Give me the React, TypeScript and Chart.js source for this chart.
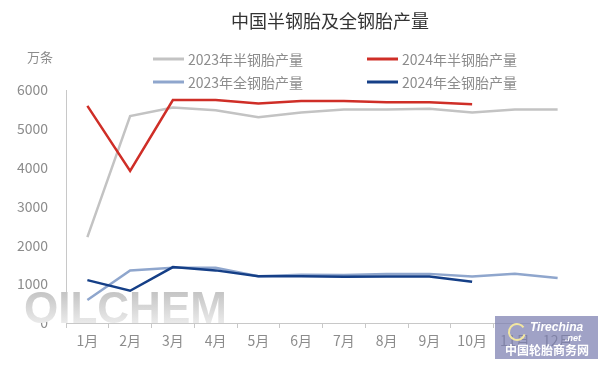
import React, { useEffect, useRef } from "react";
import { Chart, registerables } from "chart.js";

Chart.register(...registerables);

const months = ["1月", "2月", "3月", "4月", "5月", "6月", "7月", "8月", "9月", "10月", "11月", "12月"];
const semi2023 = [2210, 5330, 5550, 5480, 5300, 5420, 5495, 5500, 5515, 5420, 5500, 5495];
const semi2024 = [5590, 3915, 5740, 5745, 5650, 5715, 5715, 5685, 5685, 5630];
const full2023 = [590, 1355, 1420, 1420, 1205, 1240, 1235, 1265, 1265, 1200, 1265, 1160];
const full2024 = [1105, 830, 1440, 1355, 1205, 1205, 1190, 1195, 1200, 1060];
const yTicks = [0, 1000, 2000, 3000, 4000, 5000, 6000];

const titleText = "中国半钢胎及全钢胎产量";
const unitText = "万条";
const labels = ["2023年半钢胎产量", "2024年半钢胎产量", "2023年全钢胎产量", "2024年全钢胎产量"];
const colors = ["#c3c3c3", "#cf2e27", "#8fa6cd", "#153f87"];

const CJK = '"Noto Sans CJK SC", "Noto Sans", sans-serif';

const decor = {
  id: "decor",
  beforeDatasetsDraw(chart: any) {
    const ctx = chart.ctx;
    ctx.save();
    const g = ctx.createLinearGradient(0, 290, 0, 325);
    g.addColorStop(0, "#c2c2c2");
    g.addColorStop(1, "#ececec");
    ctx.fillStyle = g;
    ctx.font = 'bold 44px "Liberation Sans", Arial, sans-serif';
    ctx.textAlign = "left";
    ctx.textBaseline = "alphabetic";
    ctx.fillText("OILCHEM", 24, 323);
    ctx.restore();
  },
  afterDraw(chart: any) {
    const ctx = chart.ctx;
    ctx.save();
    // title
    ctx.fillStyle = "#333333";
    ctx.font = `18px ${CJK}`;
    ctx.textAlign = "center";
    ctx.textBaseline = "middle";
    ctx.fillText(titleText, 330, 21);
    // unit
    ctx.fillStyle = "#8c8c8c";
    ctx.font = `13px ${CJK}`;
    ctx.fillText(unitText, 40, 57);
    // legend
    const pos = [
      [153, 59],
      [367, 59],
      [153, 82],
      [367, 82],
    ];
    ctx.font = `14px ${CJK}`;
    ctx.textAlign = "left";
    for (let i = 0; i < 4; i++) {
      const [x, y] = pos[i];
      ctx.strokeStyle = colors[i];
      ctx.lineWidth = 3;
      ctx.beginPath();
      ctx.moveTo(x, y);
      ctx.lineTo(x + 31, y);
      ctx.stroke();
      ctx.fillStyle = "#8c8c8c";
      ctx.fillText(labels[i], x + 35, y + 1);
    }
    // tirechina box
    ctx.globalAlpha = 0.72;
    ctx.fillStyle = "#7c7eb0";
    ctx.fillRect(495, 316, 103, 43);
    ctx.globalAlpha = 1;
    ctx.strokeStyle = "#f3e7a0";
    ctx.lineWidth = 2;
    ctx.beginPath();
    ctx.arc(517, 332, 8, 0.3, Math.PI * 1.8);
    ctx.stroke();
    ctx.fillStyle = "#ffffff";
    ctx.font = 'italic bold 12px "Liberation Sans", Arial, sans-serif';
    ctx.textAlign = "left";
    ctx.fillText("Tirechina", 530, 328);
    ctx.font = 'italic bold 9px "Liberation Sans", Arial, sans-serif';
    ctx.fillText(".net", 565, 339);
    ctx.font = `bold 12px ${CJK}`;
    ctx.textAlign = "center";
    ctx.fillText("中国轮胎商务网", 547, 350);
    ctx.restore();
  },
};

export default function App() {
  const ref = useRef<HTMLCanvasElement>(null);
  useEffect(() => {
    document.body.style.margin = "0";
    const chart = new Chart(ref.current!, {
      type: "line",
      data: {
        labels: months,
        datasets: [
          { label: labels[0], data: semi2023, borderColor: colors[0], backgroundColor: colors[0], borderWidth: 2.5, pointRadius: 0, order: 2 },
          { label: labels[1], data: semi2024, borderColor: colors[1], backgroundColor: colors[1], borderWidth: 2.5, pointRadius: 0, order: 0 },
          { label: labels[2], data: full2023, borderColor: colors[2], backgroundColor: colors[2], borderWidth: 2.5, pointRadius: 0, order: 3 },
          { label: labels[3], data: full2024, borderColor: colors[3], backgroundColor: colors[3], borderWidth: 2.5, pointRadius: 0, order: 1 },
        ],
      },
      options: {
        animation: false,
        responsive: false,
        maintainAspectRatio: false,
        layout: { padding: { left: 0, right: 21, top: 90, bottom: 0 } },
        plugins: { legend: { display: false }, title: { display: false }, tooltip: { enabled: false } },
        scales: {
          x: {
            offset: true,
            grid: { offset: true, drawOnChartArea: false, drawTicks: true, tickLength: 5, color: "#c8c8c8" },
            border: { display: true, color: "#c8c8c8", width: 1 },
            ticks: { color: "#8c8c8c", font: { family: CJK, size: 14 }, padding: 4, maxRotation: 0, autoSkip: false },
            afterFit: (s: any) => {
              s.height = 42;
            },
          },
          y: {
            min: 0,
            max: 6000,
            afterBuildTicks: (s: any) => {
              s.ticks = yTicks.map((v) => ({ value: v }));
            },
            grid: { display: false },
            border: { display: true, color: "#c8c8c8", width: 1 },
            ticks: {
              color: "#8c8c8c",
              font: { family: CJK, size: 14 },
              padding: 10,
              callback: (v: any) => String(v),
            },
            afterFit: (s: any) => {
              s.width = 66;
            },
          },
        },
      },
      plugins: [decor],
    });
    return () => chart.destroy();
  }, []);
  return (
    <div style={{ position: "fixed", left: 0, top: 0, width: 600, height: 365, background: "#fff" }}>
      <canvas ref={ref} width={600} height={365} style={{ width: 600, height: 365, display: "block" }} />
    </div>
  );
}
